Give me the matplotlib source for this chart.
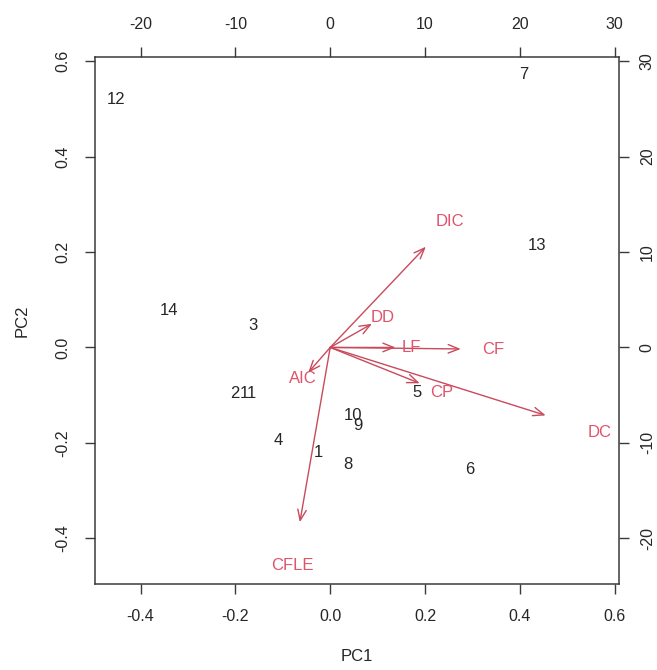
import matplotlib.pyplot as plt
from matplotlib.patches import FancyArrowPatch

plt.rcParams['font.family'] = ['Liberation Sans', 'DejaVu Sans']

# observation scores (PC1, PC2)
obs_labels = ['1', '2', '3', '4', '5', '6', '7', '8', '9', '10', '11', '12', '13', '14']
obs_pc1 = [-0.025, -0.202, -0.162, -0.109, 0.183, 0.295, 0.409, 0.038, 0.059, 0.048, -0.173, -0.451, 0.436, -0.341]
obs_pc2 = [-0.221, -0.097, 0.046, -0.196, -0.095, -0.255, 0.572, -0.246, -0.164, -0.143, -0.097, 0.520, 0.213, 0.078]

# variable loadings (top/right scale)
var_labels = ['DIC', 'DD', 'LF', 'CF', 'CP', 'DC', 'AIC', 'CFLE']
var_pc1 = [12.6, 5.5, 8.6, 17.2, 11.8, 28.4, -2.9, -4.0]
var_pc2 = [13.2, 3.1, 0.0, -0.2, -4.7, -8.9, -3.3, -22.9]

lims = (-0.496, 0.609)
bottom_ticks = [-0.4, -0.2, 0.0, 0.2, 0.4, 0.6]
top_ticks = [-20, -10, 0, 10, 20, 30]
ratio = 50.0

red = '#DF536B'
arrow_red = '#C94A5C'
fg = '#3a3a3a'
txt = '#262626'
W, H = 657, 670

fig = plt.figure(figsize=(W / 100, H / 100), dpi=100)
rect = [95 / W, (H - 584) / H, (619 - 95) / W, (584 - 57) / H]
ax = fig.add_axes(rect)
ax2 = fig.add_axes(rect, frameon=False)

ax.set_xlim(lims)
ax.set_ylim(lims)
ax2.set_xlim(lims[0] * ratio, lims[1] * ratio)
ax2.set_ylim(lims[0] * ratio, lims[1] * ratio)

for x, y, s in zip(obs_pc1, obs_pc2, obs_labels):
    ax.text(x, y, s, ha='center', va='center', fontsize=12, color=txt)

# arrows go to 0.8 of the loading, label sits at the loading itself
for x, y, s in zip(var_pc1, var_pc2, var_labels):
    arr = FancyArrowPatch((0, 0), (x * 0.8, y * 0.8),
                          arrowstyle='->,head_length=0.55,head_width=0.22',
                          mutation_scale=14, color=arrow_red, lw=1.0,
                          shrinkA=0, shrinkB=0)
    ax2.add_patch(arr)
    ax2.text(x, y, s, ha='center', va='center', fontsize=12, color=red)

tick_kw = dict(direction='out', length=7, width=1, color=fg, labelsize=11.5,
               labelcolor=txt)

ax.set_xticks(bottom_ticks)
ax.set_yticks(bottom_ticks)
ax.set_xticklabels([f'{t:.1f}' for t in bottom_ticks])
ax.set_yticklabels([f'{t:.1f}' for t in bottom_ticks], rotation=90, va='center')
ax.tick_params(pad=11, **tick_kw)
for sp in ax.spines.values():
    sp.set_color(fg)
    sp.set_linewidth(1.1)

ax2.set_xticks(top_ticks)
ax2.set_yticks(top_ticks)
ax2.xaxis.tick_top()
ax2.yaxis.tick_right()
ax2.set_xticklabels([str(t) for t in top_ticks])
ax2.set_yticklabels([str(t) for t in top_ticks], rotation=90, va='center')
ax2.tick_params(axis='x', pad=11, **tick_kw)
ax2.tick_params(axis='y', pad=8, **tick_kw)

ax.set_xlabel('PC1', fontsize=12, color=txt, labelpad=18)
ax.set_ylabel('PC2', fontsize=12, color=txt, labelpad=18)

fig.savefig('out.png', dpi=100)
